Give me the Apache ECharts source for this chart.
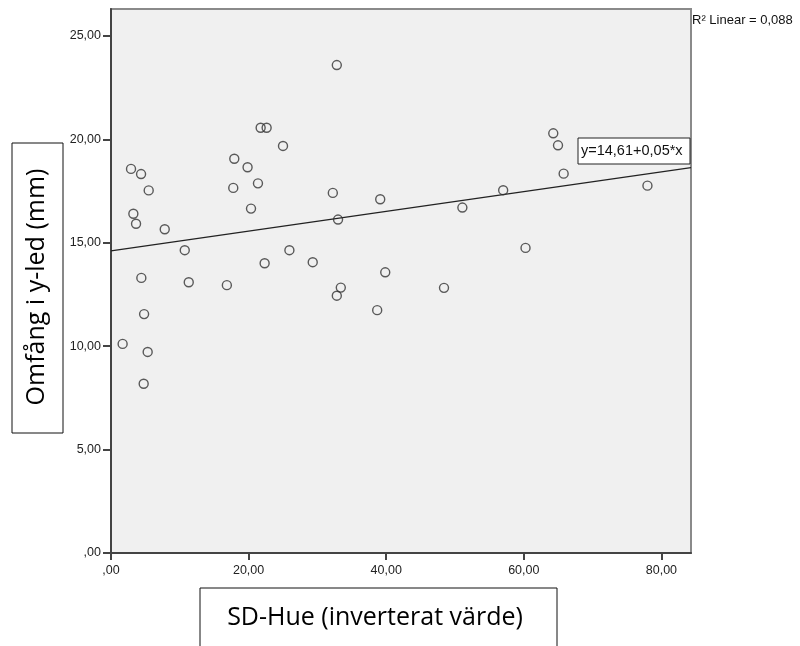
<!DOCTYPE html>
<html lang="sv">
<head>
    <meta charset="utf-8"/>
    <title>Omfång i y-led mot SD-Hue</title>
    <script src="https://cdn.jsdelivr.net/npm/echarts@6/dist/echarts.min.js"></script>
    <style>
        html, body { margin: 0; background: #FFFFFF; }
        #chart { width: 800px; height: 646px; }
    </style>
</head>
<body>
<div id="chart"></div>
<script>
    // SD-Hue (inverterat värde)
    var sdHue = [
        2.91, 4.37, 5.48, 3.25, 3.64, 7.81, 10.72, 4.41, 11.30, 16.84,
        22.33, 25.93, 29.32, 4.81, 1.69, 5.33, 4.75, 20.35, 21.75, 22.62,
        25.00, 17.92, 19.85, 21.36, 17.77, 32.82, 64.28, 64.97, 32.24, 39.13,
        51.07, 57.00, 33.00, 65.79, 77.97, 60.25, 39.86, 33.40, 32.82, 48.40,
        38.69
    ];
    // Omfång i y-led (mm)
    var omfang = [
        18.57, 18.32, 17.53, 16.40, 15.92, 15.65, 14.64, 13.30, 13.09, 12.95,
        14.01, 14.64, 14.06, 11.55, 10.11, 9.72, 8.18, 16.65, 20.56, 20.56,
        19.68, 19.06, 18.65, 17.87, 17.65, 23.59, 20.29, 19.71, 17.41, 17.10,
        16.70, 17.54, 16.12, 18.34, 17.76, 14.75, 13.57, 12.83, 12.44, 12.82,
        11.74
    ];
    // linjär anpassning (intercept och lutning, avläst från linjen)
    var fitIntercept = 14.61;
    var fitSlope = 0.0477;
    var xMax = 84.3;
    var yMax = 26.3;

    var xTickLabels = [',00', '20,00', '40,00', '60,00', '80,00'];
    var yTickLabels = [',00', '5,00', '10,00', '15,00', '20,00', '25,00'];

    var points = sdHue.map(function (x, i) { return [x, omfang[i]]; });
    var fitLine = [[0, fitIntercept], [xMax, fitIntercept + fitSlope * xMax]];

    var chart = echarts.init(document.getElementById('chart'), null, { renderer: 'canvas' });

    chart.setOption({
        animation: false,
        grid: {
            left: 111, top: 9, width: 580, height: 544,
            show: true,
            backgroundColor: '#F0F0F0',
            borderColor: '#8A8A8A',
            borderWidth: 2
        },
        xAxis: {
            type: 'value',
            min: 0, max: xMax, interval: 20,
            axisLine: { show: true, lineStyle: { color: '#444', width: 2 } },
            axisTick: { show: true, length: 7, lineStyle: { color: '#444', width: 2 } },
            splitLine: { show: false },
            axisLabel: {
                margin: 11,
                color: '#222',
                fontFamily: 'Liberation Sans, Arial, sans-serif',
                fontSize: 12.5,
                showMaxLabel: false,
                formatter: function (v) { return xTickLabels[Math.round(v / 20)] || ''; }
            }
        },
        yAxis: {
            type: 'value',
            min: 0, max: yMax, interval: 5,
            axisLine: { show: true, lineStyle: { color: '#444', width: 2 } },
            axisTick: { show: true, length: 8, lineStyle: { color: '#444', width: 2 } },
            splitLine: { show: false },
            axisLabel: {
                margin: 10,
                color: '#222',
                fontFamily: 'Liberation Sans, Arial, sans-serif',
                fontSize: 12.5,
                showMaxLabel: false,
                formatter: function (v) { return yTickLabels[Math.round(v / 5)] || ''; }
            }
        },
        series: [
            {
                type: 'line',
                data: fitLine,
                symbol: 'none',
                lineStyle: { color: '#222', width: 1.2 },
                z: 2
            },
            {
                type: 'scatter',
                data: points,
                symbol: 'circle',
                symbolSize: 9,
                itemStyle: { color: 'rgba(0,0,0,0)', borderColor: '#333', borderWidth: 1.4 },
                z: 3
            }
        ],
        graphic: [
            {
                type: 'rect',
                shape: { x: 578, y: 138, width: 112, height: 26 },
                style: { fill: '#FFFFFF', stroke: '#222', lineWidth: 1 },
                z: 10
            },
            {
                type: 'text',
                x: 581, y: 151,
                style: {
                    text: 'y=14,61+0,05*x',
                    fill: '#111',
                    font: '14.5px "Liberation Sans", Arial, sans-serif',
                    verticalAlign: 'middle'
                },
                z: 11
            },
            {
                type: 'text',
                x: 692, y: 20,
                style: {
                    text: 'R² Linear = 0,088',
                    fill: '#111',
                    font: '13px "Liberation Sans", Arial, sans-serif',
                    verticalAlign: 'middle'
                },
                z: 11
            },
            {
                type: 'rect',
                shape: { x: 12, y: 143, width: 51, height: 290 },
                style: { fill: '#FFFFFF', stroke: '#111', lineWidth: 1 },
                z: 10
            },
            {
                type: 'text',
                x: 37, y: 287,
                rotation: Math.PI / 2,
                style: {
                    text: 'Omfång i y-led (mm)',
                    fill: '#000',
                    font: '25px "Open Sans", "Noto Sans", sans-serif',
                    align: 'center',
                    verticalAlign: 'middle'
                },
                z: 11
            },
            {
                type: 'rect',
                shape: { x: 200, y: 588, width: 357, height: 70 },
                style: { fill: '#FFFFFF', stroke: '#111', lineWidth: 1 },
                z: 10
            },
            {
                type: 'text',
                x: 375, y: 618,
                style: {
                    text: 'SD-Hue (inverterat värde)',
                    fill: '#000',
                    font: '25px "Open Sans", "Noto Sans", sans-serif',
                    align: 'center',
                    verticalAlign: 'middle'
                },
                z: 11
            }
        ]
    });
</script>
</body>
</html>
